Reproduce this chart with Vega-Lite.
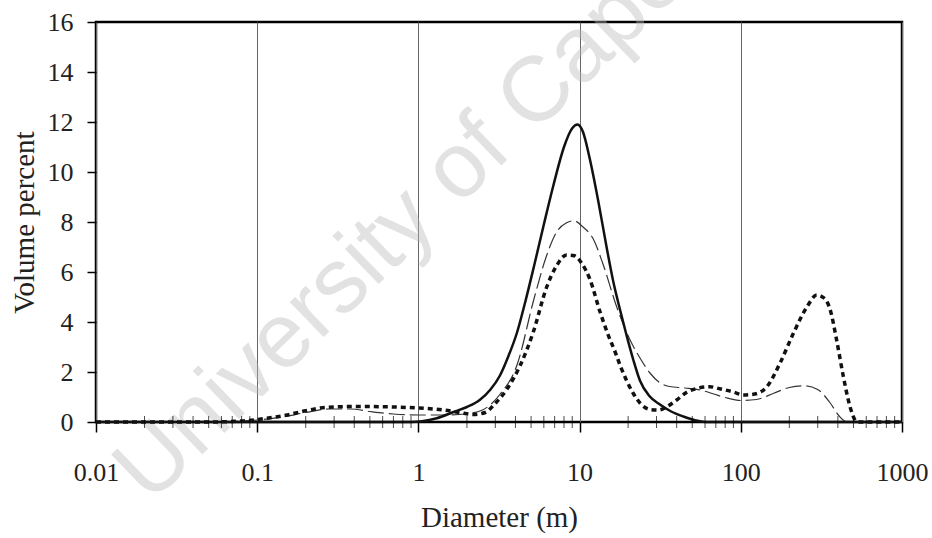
{
  "$schema": "https://vega.github.io/schema/vega-lite/v6.json",
  "width": 806,
  "height": 400,
  "autosize": {"type": "none"},
  "padding": {"left": 96, "top": 22, "right": 30, "bottom": 116},
  "background": "white",
  "config": {
    "view": {"stroke": "black", "strokeWidth": 2.5},
    "axis": {
      "labelFont": "Liberation Serif",
      "titleFont": "Liberation Serif",
      "labelColor": "#222",
      "titleColor": "#222",
      "titleFontWeight": "normal"
    }
  },
  "datasets": {
    "curves": [
      {"s": "A", "d": 0.01, "v": 0}, {"s": "A", "d": 0.1, "v": 0}, {"s": "A", "d": 0.5, "v": 0}, {"s": "A", "d": 0.9, "v": 0},
      {"s": "A", "d": 1.05, "v": 0.03}, {"s": "A", "d": 1.3, "v": 0.15}, {"s": "A", "d": 1.65, "v": 0.4}, {"s": "A", "d": 2.0, "v": 0.6},
      {"s": "A", "d": 2.4, "v": 0.88}, {"s": "A", "d": 2.8, "v": 1.3}, {"s": "A", "d": 3.2, "v": 1.85}, {"s": "A", "d": 3.6, "v": 2.6},
      {"s": "A", "d": 4.1, "v": 3.6}, {"s": "A", "d": 4.6, "v": 4.8}, {"s": "A", "d": 5.2, "v": 6.2}, {"s": "A", "d": 6.0, "v": 7.9},
      {"s": "A", "d": 6.9, "v": 9.5}, {"s": "A", "d": 8.0, "v": 11.0}, {"s": "A", "d": 9.0, "v": 11.75}, {"s": "A", "d": 9.7, "v": 11.9},
      {"s": "A", "d": 10.5, "v": 11.6}, {"s": "A", "d": 11.5, "v": 10.6}, {"s": "A", "d": 13.0, "v": 8.9}, {"s": "A", "d": 14.7, "v": 7.0},
      {"s": "A", "d": 16.2, "v": 5.6}, {"s": "A", "d": 17.8, "v": 4.5}, {"s": "A", "d": 19.5, "v": 3.5}, {"s": "A", "d": 21.5, "v": 2.5},
      {"s": "A", "d": 23.7, "v": 1.65}, {"s": "A", "d": 27, "v": 1.05}, {"s": "A", "d": 31.5, "v": 0.7}, {"s": "A", "d": 37, "v": 0.42},
      {"s": "A", "d": 44, "v": 0.22}, {"s": "A", "d": 52, "v": 0.07}, {"s": "A", "d": 60, "v": 0}, {"s": "A", "d": 100, "v": 0},
      {"s": "A", "d": 1000, "v": 0},

      {"s": "B", "d": 0.01, "v": 0}, {"s": "B", "d": 0.06, "v": 0}, {"s": "B", "d": 0.08, "v": 0.03}, {"s": "B", "d": 0.1, "v": 0.08},
      {"s": "B", "d": 0.15, "v": 0.22}, {"s": "B", "d": 0.2, "v": 0.38}, {"s": "B", "d": 0.28, "v": 0.52}, {"s": "B", "d": 0.38, "v": 0.52},
      {"s": "B", "d": 0.5, "v": 0.42}, {"s": "B", "d": 0.7, "v": 0.32}, {"s": "B", "d": 1.0, "v": 0.28}, {"s": "B", "d": 1.5, "v": 0.28},
      {"s": "B", "d": 2.0, "v": 0.33}, {"s": "B", "d": 2.5, "v": 0.48}, {"s": "B", "d": 3.2, "v": 1.1}, {"s": "B", "d": 4.1, "v": 2.3},
      {"s": "B", "d": 5.2, "v": 4.9}, {"s": "B", "d": 6.2, "v": 6.6}, {"s": "B", "d": 7.2, "v": 7.6}, {"s": "B", "d": 8.3, "v": 7.97},
      {"s": "B", "d": 9.2, "v": 8.05}, {"s": "B", "d": 10.5, "v": 7.8}, {"s": "B", "d": 12.2, "v": 7.3}, {"s": "B", "d": 14, "v": 6.3},
      {"s": "B", "d": 17, "v": 4.6}, {"s": "B", "d": 20.5, "v": 3.3}, {"s": "B", "d": 24, "v": 2.5}, {"s": "B", "d": 27.4, "v": 1.95},
      {"s": "B", "d": 31, "v": 1.6}, {"s": "B", "d": 36, "v": 1.42}, {"s": "B", "d": 45, "v": 1.36}, {"s": "B", "d": 56, "v": 1.28},
      {"s": "B", "d": 68, "v": 1.12}, {"s": "B", "d": 80, "v": 0.98}, {"s": "B", "d": 100, "v": 0.86}, {"s": "B", "d": 125, "v": 0.9},
      {"s": "B", "d": 160, "v": 1.15}, {"s": "B", "d": 200, "v": 1.38}, {"s": "B", "d": 250, "v": 1.45}, {"s": "B", "d": 300, "v": 1.3},
      {"s": "B", "d": 357, "v": 0.78}, {"s": "B", "d": 410, "v": 0.22}, {"s": "B", "d": 450, "v": 0.02}, {"s": "B", "d": 500, "v": 0},
      {"s": "B", "d": 1000, "v": 0},

      {"s": "C", "d": 0.01, "v": 0}, {"s": "C", "d": 0.05, "v": 0}, {"s": "C", "d": 0.08, "v": 0.04}, {"s": "C", "d": 0.1, "v": 0.1},
      {"s": "C", "d": 0.15, "v": 0.27}, {"s": "C", "d": 0.2, "v": 0.45}, {"s": "C", "d": 0.27, "v": 0.59}, {"s": "C", "d": 0.4, "v": 0.62},
      {"s": "C", "d": 0.7, "v": 0.6}, {"s": "C", "d": 1.0, "v": 0.56}, {"s": "C", "d": 1.42, "v": 0.48}, {"s": "C", "d": 1.8, "v": 0.38},
      {"s": "C", "d": 2.2, "v": 0.3}, {"s": "C", "d": 2.6, "v": 0.38}, {"s": "C", "d": 3.0, "v": 0.75}, {"s": "C", "d": 3.53, "v": 1.3},
      {"s": "C", "d": 4.27, "v": 2.25}, {"s": "C", "d": 5.16, "v": 3.6}, {"s": "C", "d": 6.25, "v": 5.4}, {"s": "C", "d": 7.2, "v": 6.25},
      {"s": "C", "d": 8.3, "v": 6.68}, {"s": "C", "d": 9.3, "v": 6.65}, {"s": "C", "d": 10.3, "v": 6.35}, {"s": "C", "d": 11.6, "v": 5.7},
      {"s": "C", "d": 13.4, "v": 4.4}, {"s": "C", "d": 15, "v": 3.5}, {"s": "C", "d": 16.5, "v": 2.85}, {"s": "C", "d": 18, "v": 2.2},
      {"s": "C", "d": 21.5, "v": 1.15}, {"s": "C", "d": 24, "v": 0.72}, {"s": "C", "d": 27.4, "v": 0.5}, {"s": "C", "d": 31, "v": 0.48},
      {"s": "C", "d": 35, "v": 0.62}, {"s": "C", "d": 40, "v": 0.88}, {"s": "C", "d": 46, "v": 1.18}, {"s": "C", "d": 55, "v": 1.36},
      {"s": "C", "d": 64, "v": 1.41}, {"s": "C", "d": 75, "v": 1.32}, {"s": "C", "d": 90, "v": 1.2}, {"s": "C", "d": 104, "v": 1.08},
      {"s": "C", "d": 122, "v": 1.12}, {"s": "C", "d": 145, "v": 1.41}, {"s": "C", "d": 175, "v": 2.35}, {"s": "C", "d": 212, "v": 3.55},
      {"s": "C", "d": 257, "v": 4.6}, {"s": "C", "d": 296, "v": 5.08}, {"s": "C", "d": 330, "v": 4.95}, {"s": "C", "d": 360, "v": 4.45},
      {"s": "C", "d": 393, "v": 3.28}, {"s": "C", "d": 433, "v": 1.81}, {"s": "C", "d": 476, "v": 0.61}, {"s": "C", "d": 511, "v": 0.08},
      {"s": "C", "d": 530, "v": 0}, {"s": "C", "d": 1000, "v": 0}
    ],
    "minorTicks": [
      {"d": 0.02}, {"d": 0.03}, {"d": 0.04}, {"d": 0.05}, {"d": 0.06}, {"d": 0.07}, {"d": 0.08}, {"d": 0.09},
      {"d": 0.2}, {"d": 0.3}, {"d": 0.4}, {"d": 0.5}, {"d": 0.6}, {"d": 0.7}, {"d": 0.8}, {"d": 0.9},
      {"d": 2}, {"d": 3}, {"d": 4}, {"d": 5}, {"d": 6}, {"d": 7}, {"d": 8}, {"d": 9},
      {"d": 20}, {"d": 30}, {"d": 40}, {"d": 50}, {"d": 60}, {"d": 70}, {"d": 80}, {"d": 90},
      {"d": 200}, {"d": 300}, {"d": 400}, {"d": 500}, {"d": 600}, {"d": 700}, {"d": 800}, {"d": 900}
    ],
    "watermark": [{"label": "University of Cape Town"}]
  },
  "layer": [
    {
      "data": {"name": "watermark"},
      "mark": {"type": "text", "font": "Liberation Sans", "fontSize": 92, "color": "#bbbbbb", "opacity": 0.42, "angle": 316, "align": "left", "baseline": "alphabetic"},
      "encoding": {
        "x": {"datum": 0.0216, "scale": {"type": "log", "domain": [0.01, 1000]}},
        "y": {"datum": -3.32, "scale": {"domain": [0, 16]}},
        "text": {"field": "label"}
      }
    },
    {
      "data": {"name": "curves"},
      "transform": [{"filter": "datum.s === 'B'"}],
      "mark": {"type": "line", "interpolate": "monotone", "color": "#333", "strokeWidth": 1.2, "strokeDash": [16, 5]},
      "encoding": {
        "x": {
          "field": "d", "type": "quantitative",
          "scale": {"type": "log", "domain": [0.01, 1000]},
          "axis": {
            "title": "Diameter (m)",
            "values": [0.01, 0.1, 1, 10, 100, 1000],
            "format": "~g",
            "labelFontSize": 26,
            "labelFlush": false,
            "labelPadding": 27,
            "tickSize": 10, "tickWidth": 1.5, "tickColor": "black",
            "grid": true, "gridColor": "#666", "gridWidth": 1,
            "domain": false,
            "titleFontSize": 29,
            "titlePadding": 18
          }
        },
        "y": {
          "field": "v", "type": "quantitative",
          "scale": {"domain": [0, 16]},
          "axis": {
            "title": "Volume percent",
            "values": [0, 2, 4, 6, 8, 10, 12, 14, 16],
            "labelFontSize": 26,
            "labelPadding": 14,
            "tickSize": 9, "tickWidth": 1.5, "tickColor": "black",
            "grid": false,
            "domain": false,
            "titleFontSize": 29,
            "titlePadding": 8
          }
        }
      }
    },
    {
      "data": {"name": "curves"},
      "transform": [{"filter": "datum.s === 'C'"}],
      "mark": {"type": "line", "interpolate": "monotone", "color": "#111", "strokeWidth": 3.5, "strokeDash": [5, 4]},
      "encoding": {
        "x": {"field": "d", "type": "quantitative"},
        "y": {"field": "v", "type": "quantitative"}
      }
    },
    {
      "data": {"name": "curves"},
      "transform": [{"filter": "datum.s === 'A'"}],
      "mark": {"type": "line", "interpolate": "monotone", "color": "#111", "strokeWidth": 2.5},
      "encoding": {
        "x": {"field": "d", "type": "quantitative"},
        "y": {"field": "v", "type": "quantitative"}
      }
    },
    {
      "data": {"name": "minorTicks"},
      "mark": {"type": "tick", "orient": "vertical", "size": 12, "thickness": 1, "color": "black"},
      "encoding": {
        "x": {"field": "d", "type": "quantitative"},
        "y": {"datum": 0}
      }
    }
  ]
}
